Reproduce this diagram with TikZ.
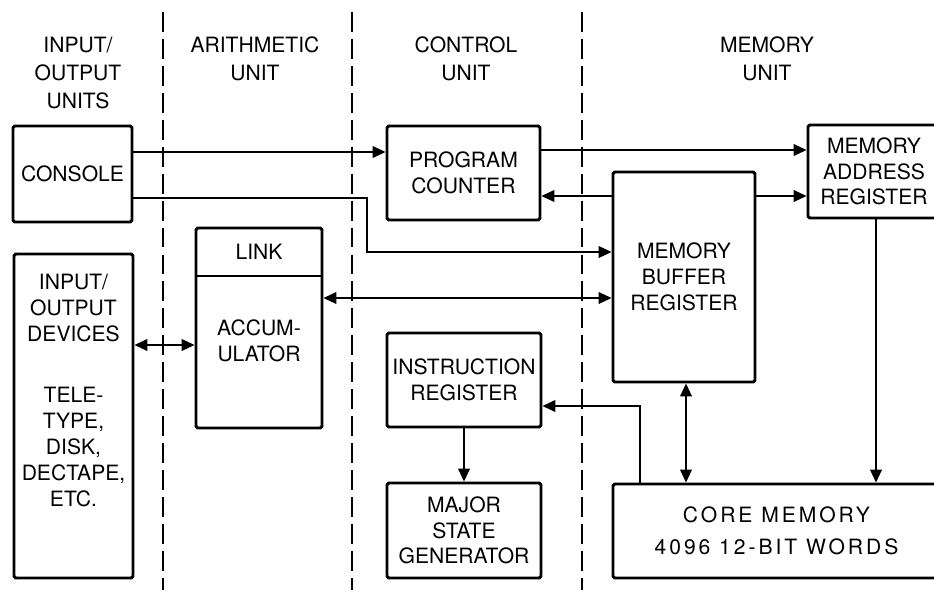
\documentclass[tikz,border=0pt]{standalone}
\usepackage{fontspec}
\setmainfont{TeX Gyre Heros}
\usetikzlibrary{arrows.meta, positioning}

\tikzset{
  unitbox/.style={draw, line width=2.5pt, rounded corners=1.5pt, align=center, inner sep=0pt,
    font=\fontsize{18}{22}\selectfont},
  plain/.style={align=center, inner sep=0pt, font=\fontsize{18}{22}\selectfont},
  heading/.style={align=center, inner sep=0pt, font=\fontsize{18}{24}\selectfont},
  flow/.style={line width=1.1pt, -{Triangle[length=11pt,width=10pt]}},
  flowboth/.style={line width=1.1pt, {Triangle[length=11pt,width=10pt]}-{Triangle[length=11pt,width=10pt]}},
  divider/.style={line width=1.7pt, dash pattern=on 17pt off 6pt}
}

\begin{document}
\begin{tikzpicture}[x=0.03cm, y=-0.03cm]
  \useasboundingbox (0,0) rectangle (934,590);

  % Unit dividers
  \foreach \x in {163,352,582}
    \draw[divider] (\x,12) -- (\x,590);

  % Headings
  \node[heading] (hio) at (78,73) {INPUT/\\OUTPUT\\UNITS};
  \node[heading] (harith) at (255,59) {ARITHMETIC\\UNIT};
  \node[heading] (hctrl) at (466,59) {CONTROL\\UNIT};
  \node[heading] (hmem) at (767,59) {MEMORY\\UNIT};

  % Boxes
  \node[unitbox, minimum width=3.57cm, minimum height=2.88cm] (console) at (72.5,174) {CONSOLE};
  \node[unitbox, minimum width=3.57cm, minimum height=9.72cm] (io) at (73.5,416) {};
  \node[plain] (iotop) at (73.5,308) {INPUT/\\OUTPUT\\DEVICES};
  \node[plain] (iobot) at (73.5,447) {TELE-\\TYPE,\\DISK,\\DECTAPE,\\ETC.};

  \node[unitbox, minimum width=3.78cm, minimum height=6.0cm] (acc) at (259,328) {};
  \draw[line width=1.6pt] (acc.west |- 0,276) -- (acc.east |- 0,276);
  \node[plain] (link) at (259,252) {LINK};
  \node[plain] (acctext) at (259,341) {ACCUM-\\ULATOR};

  \node[unitbox, minimum width=4.59cm, minimum height=2.82cm] (pc) at (463.5,173) {PROGRAM\\COUNTER};
  \node[unitbox, minimum width=4.62cm, minimum height=2.82cm] (ir) at (464,380) {INSTRUCTION\\REGISTER};
  \node[unitbox, minimum width=4.62cm, minimum height=2.85cm] (msg) at (464,530.5) {MAJOR\\STATE\\GENERATOR};

  \node[unitbox, minimum width=4.26cm, minimum height=6.3cm] (mbr) at (684,277) {MEMORY\\BUFFER\\REGISTER};
  \node[unitbox, minimum width=3.96cm, minimum height=2.79cm] (mar) at (874,171.5) {MEMORY\\ADDRESS\\REGISTER};
  \node[unitbox, minimum width=9.81cm, minimum height=2.82cm,
    font=\fontsize{18}{27}\selectfont\addfontfeature{LetterSpace=14}] (core) at (776.5,531)
    {CORE MEMORY\\4096 12-BIT WORDS};

  % Connectors
  \draw[flow] (console.east |- 0,152) -- (pc.west |- 0,152);
  \draw[flow] (console.east |- 0,198) -| (367,252) -- (mbr.west |- 0,252);
  \draw[flow] (pc.east |- 0,150) -- (mar.west |- 0,150);
  \draw[flow] (mbr.west |- 0,196) -- (pc.east |- 0,196);
  \draw[flow] (mbr.east |- 0,196) -- (mar.west |- 0,196);
  \draw[flowboth] (acc.east |- 0,298) -- (mbr.west |- 0,298);
  \draw[flowboth] (io.east |- 0,345) -- (acc.west |- 0,345);
  \draw[flow] (ir.south) -- (msg.north);
  \draw[flow] (core.north -| 640,0) |- (ir.east |- 0,406);
  \draw[flowboth] (mbr.south -| 686,0) -- (core.north -| 686,0);
  \draw[flow] (mar.south -| 876,0) -- (core.north -| 876,0);
\end{tikzpicture}
\end{document}
